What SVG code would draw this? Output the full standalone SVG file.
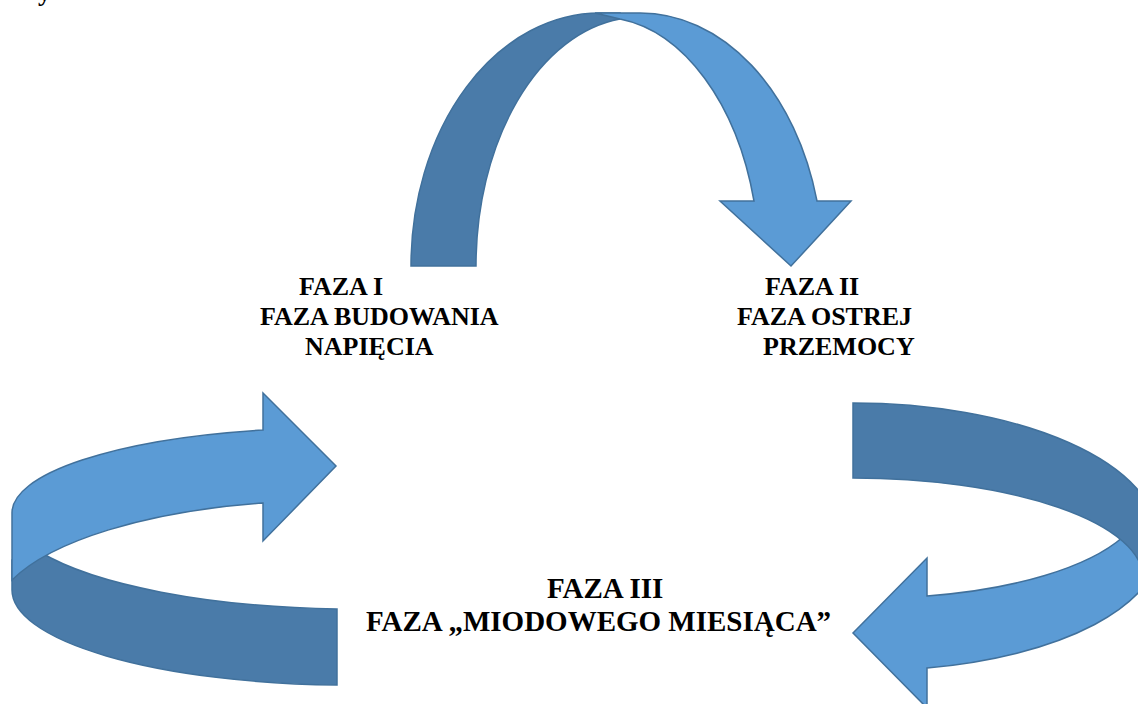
<svg xmlns="http://www.w3.org/2000/svg" width="1138" height="704" viewBox="0 0 1138 704">
<style>
.light{fill:#5B9BD5;stroke:#41719C;stroke-width:1.5;stroke-linejoin:miter}
.dark{fill:#4A7BA9;stroke:#41719C;stroke-width:1.5;stroke-linejoin:miter}
.t{font-family:"Liberation Serif","Times New Roman",serif;font-weight:bold;font-size:26px;fill:#000}
.tb{font-size:29px}
</style>
<rect width="1138" height="704" fill="#fff"/>
<text class="t" x="38" y="1">y</text>
<g id="connectors">
  <g id="arrow-top">
    <path class="dark" d="M411,266 A189,253 0 0 1 600,13 L620,13 L620,19 A164,249 0 0 0 476,266 Z"/>
    <path class="light" d="M595,13 L640,13 A183,253 0 0 1 817,201 L851,201 L791,266 L720,201 L754,201 A160,250 0 0 0 620,19 Z"/>
  </g>
  <g id="arrow-right">
    <path class="light" d="M927,668 A290,125 0 0 0 1160,545 L1123,537 A270,100 0 0 1 927,596 L927,558 L853,633 L927,708 Z"/>
    <path class="dark" d="M853,403 A305,135 0 0 1 1158,538 L1143,578 A290,100 0 0 0 853,478 Z"/>
  </g>
  <g id="arrow-left">
    <path class="dark" d="M337,609 L337,685 A338,95 0 0 1 12,590 L12,560 L40,545 L40,552 A350,100 0 0 0 337,609 Z"/>
    <path class="light" d="M263,430 A325,85 0 0 0 12,513 L12,580 A338,119 0 0 1 263,503 L263,541 L336,466 L263,393 Z"/>
  </g>
</g>
<g id="faza1">
  <text class="t" x="299" y="295">FAZA I</text>
  <text class="t" x="260" y="325">FAZA BUDOWANIA</text>
  <text class="t" x="305" y="355">NAPIĘCIA</text>
</g>
<g id="faza2">
  <text class="t" x="765" y="295">FAZA II</text>
  <text class="t" x="737" y="325">FAZA OSTREJ</text>
  <text class="t" x="763" y="355">PRZEMOCY</text>
</g>
<g id="faza3">
  <text class="t tb" x="547" y="598">FAZA III</text>
  <text class="t tb" x="366" y="631">FAZA „MIODOWEGO MIESIĄCA”</text>
</g>
</svg>
